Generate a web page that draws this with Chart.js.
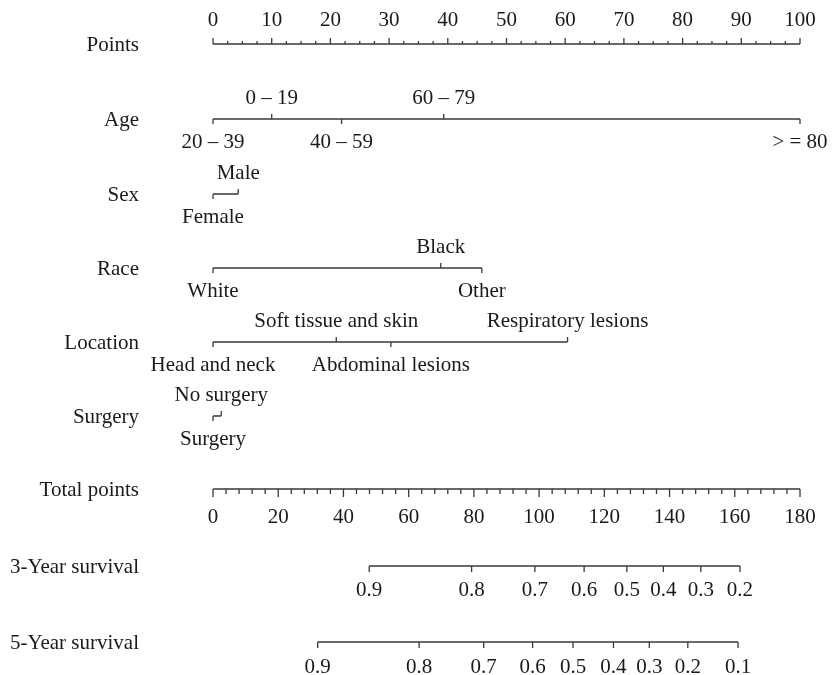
<!DOCTYPE html>
<html>
<head>
<meta charset="utf-8">
<script src="https://cdn.jsdelivr.net/npm/chart.js@4/dist/chart.umd.min.js"></script>
<style>
  body { margin: 0; background: #fff; }
  #wrap { width: 833px; height: 675px; position: relative; }
</style>
</head>
<body>
<div id="wrap"><canvas id="myChart"></canvas></div>
<script>
// points scale (0-100) and total points scale (0-180)
const pointsTicks = [0, 10, 20, 30, 40, 50, 60, 70, 80, 90, 100];
const pointsMinorStep = 2.5;
const totalTicks = [0, 20, 40, 60, 80, 100, 120, 140, 160, 180];
const totalMinorStep = 4;

// predictors: level labels and their points
const ageLabels = ['20 – 39', '0 – 19', '40 – 59', '60 – 79', '> = 80'];
const agePoints = [0, 10, 21.9, 39.3, 100];
const sexLabels = ['Female', 'Male'];
const sexPoints = [0, 4.3];
const raceLabels = ['White', 'Black', 'Other'];
const racePoints = [0, 38.8, 45.8];
const locationLabels = ['Head and neck', 'Soft tissue and skin', 'Abdominal lesions', 'Respiratory lesions'];
const locationPoints = [0, 21.0, 30.3, 60.4];
const surgeryLabels = ['Surgery', 'No surgery'];
const surgeryPoints = [0, 1.4];

// survival probabilities, placed on total points
const surv3Labels = ['0.9', '0.8', '0.7', '0.6', '0.5', '0.4', '0.3', '0.2'];
const surv3Points = [47.9, 79.3, 98.7, 113.8, 126.9, 138.1, 149.6, 161.6];
const surv5Labels = ['0.9', '0.8', '0.7', '0.6', '0.5', '0.4', '0.3', '0.2', '0.1'];
const surv5Points = [32.1, 63.2, 83.0, 98.0, 110.4, 122.8, 133.8, 145.6, 161.0];

const rowNames = ['Points', 'Age', 'Sex', 'Race', 'Location', 'Surgery', 'Total points', '3-Year survival', '5-Year survival'];
const rowY = [44, 119, 194, 268, 342, 416, 489, 566, 642];

const LINE = '#3a3a3a';
const TEXT = '#1a1a1a';
const FONT = '21px "Liberation Serif", "DejaVu Serif", serif';

// build one dataset: main line + tick segments (null breaks between them)
function axisData(xs, y, dirs, len) {
  const d = [{ x: Math.min(...xs), y: y }, { x: Math.max(...xs), y: y }];
  xs.forEach((x, i) => {
    d.push({ x: x, y: null });
    d.push({ x: x, y: y });
    d.push({ x: x, y: y + dirs[i] * (Array.isArray(len) ? len[i] : len) });
  });
  return d;
}

function rangeStep(max, step) {
  const out = [];
  for (let v = 0; v <= max + 1e-9; v += step) out.push(+v.toFixed(3));
  return out;
}

// alternate: first level below, next above ...
const alt = arr => arr.map((_, i) => (i % 2 === 0 ? 1 : -1));

const pointsAll = rangeStep(100, pointsMinorStep);
const totalAll = rangeStep(180, totalMinorStep);

const predictors = [
  { labels: ageLabels, pts: agePoints, y: rowY[1] },
  { labels: sexLabels, pts: sexPoints, y: rowY[2] },
  { labels: raceLabels, pts: racePoints, y: rowY[3] },
  { labels: locationLabels, pts: locationPoints, y: rowY[4] },
  { labels: surgeryLabels, pts: surgeryPoints, y: rowY[5] }
];

const ds = (data, axis) => ({
  data: data,
  xAxisID: axis,
  showLine: true,
  spanGaps: false,
  borderColor: LINE,
  borderWidth: 1.3,
  pointRadius: 0,
  clip: false
});

const datasets = [];
datasets.push(ds(axisData(pointsAll, rowY[0], pointsAll.map(() => -1),
  pointsAll.map(v => (v % 10 === 0 ? 6 : 3))), 'x'));
predictors.forEach(p => datasets.push(ds(axisData(p.pts, p.y, alt(p.pts), 5), 'x')));
datasets.push(ds(axisData(totalAll, rowY[6], totalAll.map(() => 1),
  totalAll.map(v => (v % 20 === 0 ? 8 : 5))), 'x2'));
datasets.push(ds(axisData(surv3Points, rowY[7], surv3Points.map(() => 1), 6), 'x2'));
datasets.push(ds(axisData(surv5Points, rowY[8], surv5Points.map(() => 1), 6), 'x2'));

const labelPlugin = {
  id: 'nomoLabels',
  afterDatasetsDraw(chart) {
    const c = chart.ctx;
    const x = chart.scales.x, x2 = chart.scales.x2, y = chart.scales.y;
    c.save();
    c.font = FONT;
    c.fillStyle = TEXT;
    c.textBaseline = 'middle';

    // row names
    c.textAlign = 'right';
    rowNames.forEach((n, i) => c.fillText(n, 139, y.getPixelForValue(rowY[i]) + 1));

    c.textAlign = 'center';
    pointsTicks.forEach(v => c.fillText(String(v), x.getPixelForValue(v), y.getPixelForValue(rowY[0] - 24)));
    predictors.forEach(p => {
      p.labels.forEach((l, i) => {
        const off = i % 2 === 0 ? 23 : -21;
        c.fillText(l, x.getPixelForValue(p.pts[i]), y.getPixelForValue(p.y + off));
      });
    });
    totalTicks.forEach(v => c.fillText(String(v), x2.getPixelForValue(v), y.getPixelForValue(rowY[6] + 28)));
    surv3Labels.forEach((l, i) => c.fillText(l, x2.getPixelForValue(surv3Points[i]), y.getPixelForValue(rowY[7] + 24)));
    surv5Labels.forEach((l, i) => c.fillText(l, x2.getPixelForValue(surv5Points[i]), y.getPixelForValue(rowY[8] + 25)));
    c.restore();
  }
};

new Chart(document.getElementById('myChart'), {
  type: 'scatter',
  data: { datasets: datasets },
  options: {
    responsive: true,
    maintainAspectRatio: false,
    animation: false,
    layout: { padding: { left: 213, right: 33, top: 0, bottom: 0 } },
    plugins: { legend: { display: false }, tooltip: { enabled: false } },
    scales: {
      x: { type: 'linear', min: 0, max: 100, display: false },
      x2: { type: 'linear', min: 0, max: 180, display: false },
      y: { type: 'linear', min: 0, max: 675, reverse: true, display: false }
    }
  },
  plugins: [labelPlugin]
});
</script>
</body>
</html>
